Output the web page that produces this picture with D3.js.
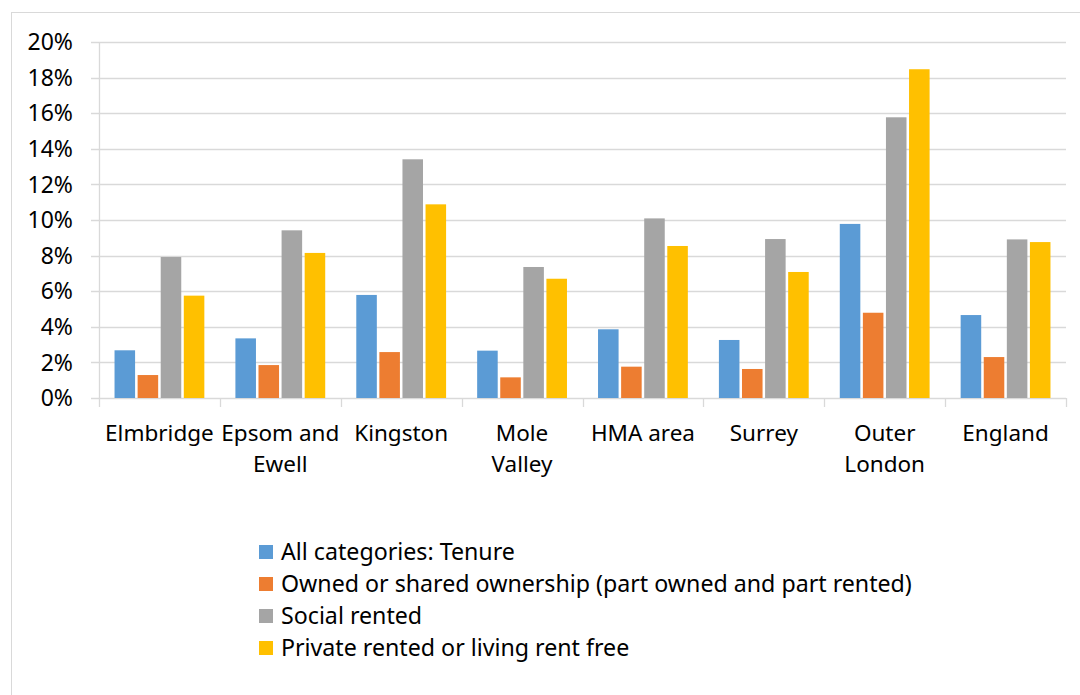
<!DOCTYPE html>
<html>
<head>
<meta charset="utf-8">
<script src="https://cdn.jsdelivr.net/npm/d3@7"></script>
<style>
  body { margin: 0; background: #fff; }
  svg { display: block; }
  text { font-family: "Noto Sans", "Open Sans", sans-serif; fill: #000; }
</style>
</head>
<body>
<svg id="chart" width="1080" height="695"></svg>
<script>
(() => {

    // chart data
    const categories = ["Elmbridge", "Epsom and\nEwell", "Kingston", "Mole\nValley", "HMA area", "Surrey", "Outer\nLondon", "England"];
    const series = ["All categories: Tenure", "Owned or shared ownership (part owned and part rented)", "Social rented", "Private rented or living rent free"];
    const all_categories = [2.68, 3.35, 5.79, 2.66, 3.86, 3.26, 9.78, 4.66];
    const owned = [1.29, 1.85, 2.58, 1.16, 1.76, 1.63, 4.79, 2.30];
    const social_rented = [7.92, 9.42, 13.41, 7.36, 10.09, 8.93, 15.77, 8.91];
    const private_rented = [5.75, 8.15, 10.88, 6.70, 8.54, 7.08, 18.47, 8.76];
    const y_ticks = [0, 2, 4, 6, 8, 10, 12, 14, 16, 18, 20];
    const colors = ["#5b9bd5", "#ed7d31", "#a5a5a5", "#ffc000"];

    const values = [all_categories, owned, social_rented, private_rented];

    // layout
    const plot_left = 99;
    const plot_right = 1066;
    const plot_top = 42;
    const plot_bottom = 398;
    const grid_color = "#d9d9d9";

    let svg = d3.select("#chart");

    // outer frame
    svg.append("rect")
        .attr("x", 11.5).attr("y", 12.5)
        .attr("width", 1080).attr("height", 700)
        .attr("fill", "none")
        .attr("stroke", grid_color)
        .attr("stroke-width", 1);

    // scales
    let x0 = d3.scaleBand()
        .domain(categories)
        .range([plot_left, plot_right])
        .paddingInner(0.236)
        .paddingOuter(0.118);

    let x1 = d3.scaleBand()
        .domain(series)
        .range([0, x0.bandwidth()])
        .paddingInner(0.11)
        .paddingOuter(0.055);

    let y = d3.scaleLinear()
        .domain([0, 20])
        .range([plot_bottom, plot_top]);

    // gridlines and y labels
    svg.append("g")
        .selectAll("line")
        .data(y_ticks)
        .enter()
        .append("line")
        .attr("x1", plot_left - 8)
        .attr("x2", plot_right)
        .attr("y1", (d) => Math.round(y(d)) + 0.5)
        .attr("y2", (d) => Math.round(y(d)) + 0.5)
        .attr("stroke", grid_color)
        .attr("stroke-width", (d) => d == 0 ? 1.5 : 1.3);

    svg.append("g")
        .selectAll("text")
        .data(y_ticks)
        .enter()
        .append("text")
        .attr("x", 73)
        .attr("y", (d) => y(d))
        .attr("dy", "0.36em")
        .style("text-anchor", "end")
        .style("font-size", "23px")
        .text((d) => d + "%");

    // vertical axis line
    svg.append("line")
        .attr("x1", plot_left + 0.5).attr("x2", plot_left + 0.5)
        .attr("y1", plot_top).attr("y2", plot_bottom + 9)
        .attr("stroke", grid_color)
        .attr("stroke-width", 1.3);

    // category boundary ticks
    let step = x0.step();
    svg.append("g")
        .selectAll("line")
        .data(categories)
        .enter()
        .append("line")
        .attr("x1", (d) => Math.round(x0(d) - x0.paddingOuter() * step + step) + 0.5)
        .attr("x2", (d) => Math.round(x0(d) - x0.paddingOuter() * step + step) + 0.5)
        .attr("y1", plot_bottom)
        .attr("y2", plot_bottom + 9)
        .attr("stroke", grid_color)
        .attr("stroke-width", 1.3);

    // bars
    let groups = svg.append("g")
        .selectAll("g")
        .data(categories)
        .enter()
        .append("g")
        .attr("transform", (d) => `translate(${x0(d)}, 0)`);

    groups.selectAll("rect")
        .data((d, i) => series.map((s, j) => ({ s: s, v: values[j][i], c: colors[j] })))
        .enter()
        .append("rect")
        .attr("x", (d) => x1(d.s))
        .attr("y", (d) => y(d.v))
        .attr("width", x1.bandwidth())
        .attr("height", (d) => y(0) - y(d.v))
        .attr("fill", (d) => d.c);

    // category labels
    let labels = svg.append("g")
        .selectAll("text")
        .data(categories)
        .enter()
        .append("text")
        .attr("x", (d) => x0(d) + x0.bandwidth() / 2)
        .attr("y", 441)
        .style("text-anchor", "middle")
        .style("font-size", "22.5px");

    labels.selectAll("tspan")
        .data((d) => d.split("\n"))
        .enter()
        .append("tspan")
        .attr("x", function () { return d3.select(this.parentNode).attr("x"); })
        .attr("dy", (d, i) => i == 0 ? 0 : 31)
        .text((d) => d);

    // legend
    let legend = svg.append("g")
        .selectAll("g")
        .data(series)
        .enter()
        .append("g")
        .attr("transform", (d, i) => `translate(259, ${552 + i * 32})`);

    legend.append("rect")
        .attr("x", 0).attr("y", -7)
        .attr("width", 14).attr("height", 14)
        .attr("fill", (d, i) => colors[i]);

    legend.append("text")
        .attr("x", 22)
        .attr("y", 0)
        .attr("dy", "0.36em")
        .style("font-size", "23.2px")
        .text((d) => d);

})();
</script>
</body>
</html>
